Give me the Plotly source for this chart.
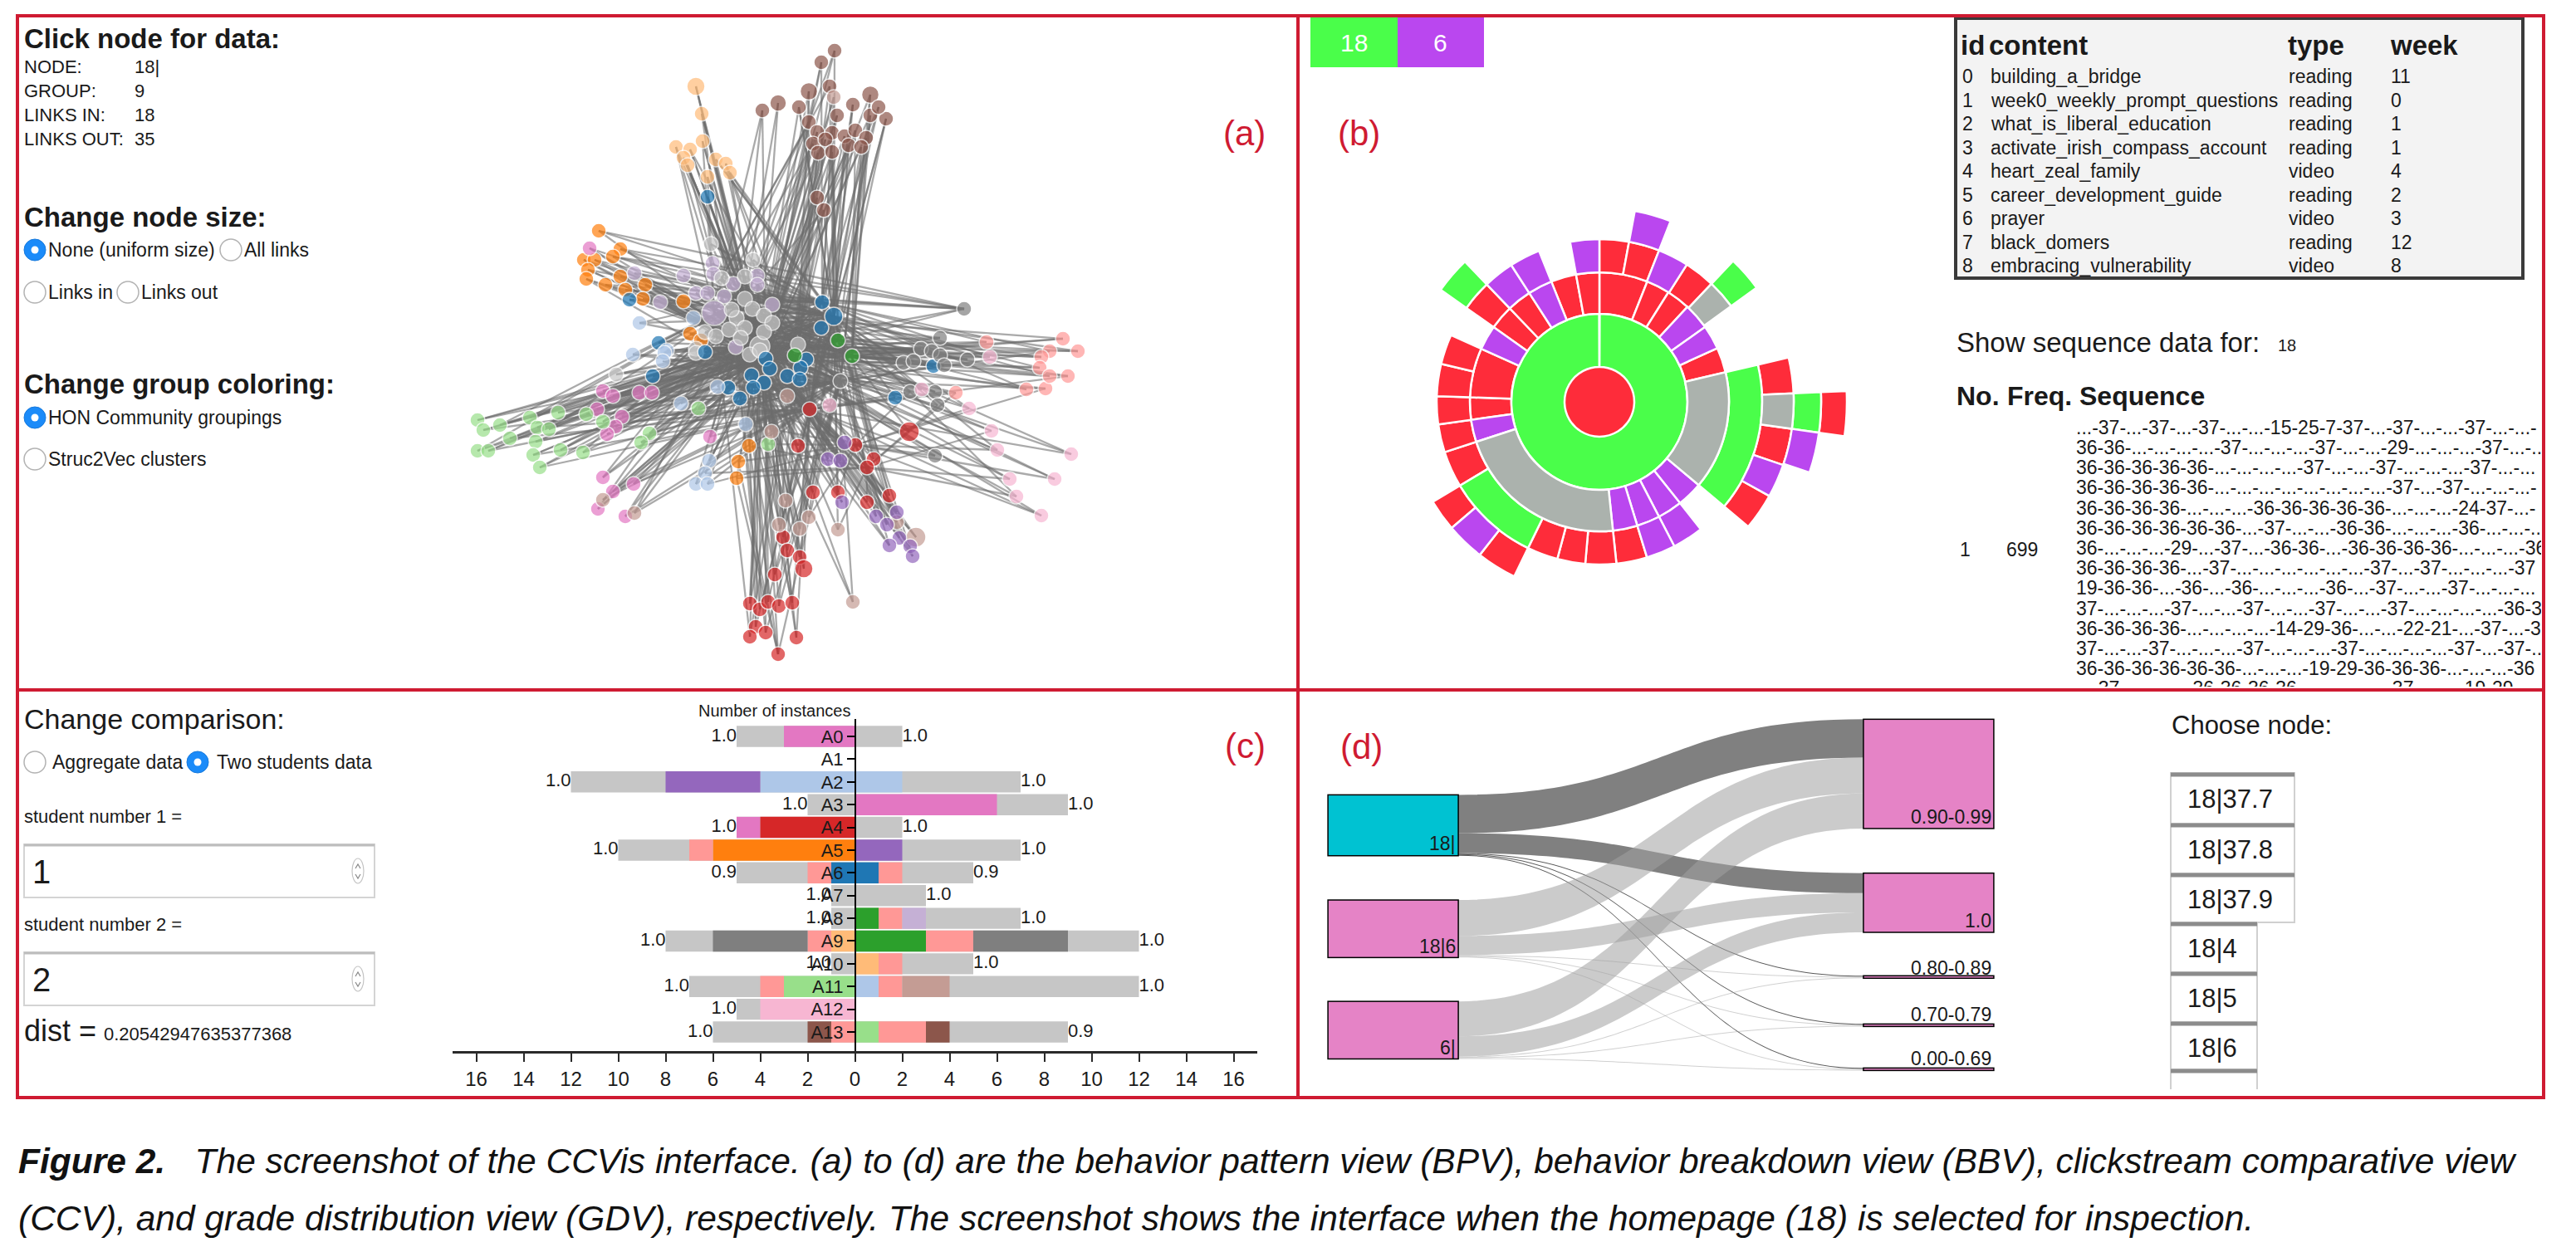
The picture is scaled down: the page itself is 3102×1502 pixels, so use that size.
import plotly.graph_objects as go

# ---------------------------------------------------------------- data ----
# (a) network: node positions (screen px of the original layout) + hub links
hub_nodes = {'G': (915, 417), 'C': (922, 432), 'B': (1004, 381), 'R': (975, 493), 'K': (1012, 459),
             'L': (860, 377), 'T': (948, 477), 'D': (1161, 372), 'Q': (937, 788), 'E': (990, 364),
             'F': (897, 360), 'H': (1026, 429), 'I': (961, 415), 'M': (869, 335), 'S': (1009, 410),
             'U': (886, 418), 'W': (1030, 536), 'X': (1044, 563)}
large_nodes = {(860, 377): 30, (915, 417): 24, (1004, 381): 22, (1095, 520): 24, (1103, 647): 24,
               (968, 685): 22, (838, 104): 22, (974, 110): 21, (1048, 114): 21, (937, 124): 20}

brown_nodes = [(1005, 61, 'GBF'), (989, 75, 'GCE'), (974, 110, 'GRI'), (999, 104, 'BTM'), (1048, 114, 'CKH'),
               (937, 124, 'GFA'), (962, 129, 'GBS'), (918, 133, 'LCU'), (1027, 126, 'BRE'), (1008, 139, 'CGI'),
               (1048, 139, 'GKH'), (1067, 143, 'BRS'), (974, 147, 'LCM'), (984, 159, 'GTF'), (1002, 160, 'CBE'),
               (1017, 164, 'BGI'), (1030, 157, 'GRH'), (1043, 166, 'RKS'), (979, 173, 'LGU'), (994, 168, 'CTF'),
               (1022, 175, 'GBE'), (1037, 177, 'BCH'), (985, 184, 'TGI'), (1002, 183, 'GKS'), (1058, 129, 'CRE'),
               (984, 238, 'GCI'), (992, 253, 'BTF')]
light_orange_nodes = [(838, 104, 'GCF'), (845, 137, 'CGU'), (846, 170, 'GLF'), (814, 177, 'LGU'),
                      (831, 180, 'GCI'), (823, 190, 'CTF'), (862, 192, 'BGE'), (828, 199, 'GCU'),
                      (874, 197, 'CRI'), (879, 208, 'GBS'), (852, 213, 'LCF')]
orange_nodes = [(721, 278, 'GDE'), (747, 300, 'BDH'), (703, 313, 'GCS'), (716, 313, 'CBI'), (738, 309, 'DGE'),
                (708, 325, 'GKF'), (747, 333, 'BCH'), (706, 336, 'GTI'), (729, 343, 'KDS'), (753, 349, 'GBE'),
                (777, 343, 'CGH'), (774, 360, 'BGS'), (823, 363, 'GCE'), (831, 402, 'CRI'), (844, 410, 'GTU'),
                (902, 537, 'GCX'), (889, 556, 'CQW'), (887, 576, 'GQX')]
lavender_nodes = [(764, 329, 'GBE'), (823, 332, 'CBS'), (858, 317, 'GKH'), (859, 330, 'BCI'), (838, 353, 'GRF'),
                  (852, 353, 'CDE'), (872, 357, 'GBH'), (883, 342, 'BKS'), (912, 332, 'CRE'), (912, 343, 'GKI'),
                  (795, 364, 'BCU'), (860, 377, 'GCE'), (930, 367, 'CBH'), (886, 418, 'RGX')]
light_gray_nodes = [(856, 294, 'GBE'), (907, 313, 'CBH'), (897, 333, 'GRS'), (869, 335, 'CKI'), (897, 360, 'BRE'),
                    (906, 372, 'CKH'), (887, 383, 'GRS'), (881, 373, 'BCI'), (920, 380, 'CRE'), (930, 389, 'GKH'),
                    (849, 400, 'BCS'), (862, 405, 'GRI'), (878, 397, 'CKE'), (897, 395, 'BRH'), (892, 407, 'CKS'),
                    (915, 417, 'BRE'), (920, 400, 'CRH'), (838, 420, 'GBS'), (961, 415, 'CRE'), (838, 425, 'GKI'),
                    (903, 427, 'BRH'), (915, 422, 'CKS'), (742, 451, 'GCU')]
blue_nodes = [(852, 237, 'GCF'), (758, 361, 'GBE'), (990, 364, 'GCH'), (1004, 381, 'GCI'), (989, 395, 'CRS'),
              (793, 413, 'GBF'), (849, 424, 'CRU'), (922, 432, 'GBE'), (971, 433, 'CRH'), (786, 453, 'GKU'),
              (905, 452, 'BRS'), (927, 444, 'GKE'), (920, 461, 'BRI'), (907, 467, 'GKH'), (948, 453, 'CRS'),
              (964, 443, 'GBE'), (963, 457, 'CKI'), (877, 467, 'GRU'), (891, 480, 'BCW'), (1124, 441, 'GBH'),
              (1078, 479, 'CRE')]
light_blue_nodes = [(770, 389, 'GBF'), (835, 383, 'CBU'), (803, 422, 'GRI'), (762, 427, 'CKF'), (800, 425, 'GBU'),
                    (798, 435, 'CRI'), (864, 466, 'GKU'), (820, 486, 'BCF'), (898, 511, 'GRW'), (854, 555, 'CKU'),
                    (849, 570, 'GBX'), (838, 583, 'CRU'), (852, 583, 'GKW')]
green_nodes = [(1009, 410, 'GCE'), (1026, 429, 'CLH'), (957, 428, 'GBS')]
dark_gray_nodes = [(1161, 372, 'GCE'), (1132, 407, 'CLS'), (1109, 420, 'GBH'), (1122, 423, 'CKI'),
                   (1132, 428, 'GLE'), (1088, 437, 'CBS'), (1100, 435, 'GRH'), (1137, 440, 'CKI'),
                   (1165, 433, 'GLS'), (1012, 459, 'GCE'), (1096, 472, 'CRW'), (1126, 472, 'GLH'),
                   (1129, 488, 'CBX'), (1126, 549, 'RGW')]
light_red_nodes = [(1188, 412, 'GCE'), (1280, 408, 'CLH'), (1298, 423, 'GBS'), (1264, 423, 'CKE'),
                   (1254, 430, 'GLI'), (1252, 443, 'CBH'), (1286, 453, 'GRS'), (1259, 468, 'CKW'),
                   (1236, 469, 'GLE'), (1264, 453, 'CBH'), (1151, 473, 'GRX')]
light_pink_nodes = [(1192, 430, 'GCE'), (1110, 469, 'CLH'), (1167, 492, 'GBW'), (999, 488, 'CKU'),
                    (1194, 519, 'GLX'), (1201, 542, 'CBW'), (1290, 547, 'GRH'), (1216, 577, 'CKX'),
                    (1270, 577, 'GLW'), (1224, 598, 'CBX'), (1254, 621, 'GRW')]
red_nodes = [(975, 493, 'GCI'), (961, 537, 'CBU'), (1030, 536, 'GKH'), (1095, 520, 'CLS'), (1052, 553, 'GBH'),
             (1044, 563, 'CRE'), (979, 593, 'GKU'), (1009, 593, 'CBW'), (1044, 605, 'GLX'), (1071, 597, 'CBH'),
             (943, 647, 'GRU'), (948, 663, 'CKI'), (963, 671, 'GBU'), (968, 685, 'CRF'), (933, 692, 'GKU'),
             (903, 727, 'CGI'), (915, 734, 'GRU'), (925, 725, 'CBF'), (938, 730, 'GKI'), (954, 726, 'CRU'),
             (910, 755, 'GBF'), (922, 762, 'CKU'), (903, 767, 'GLI'), (959, 768, 'CRF'), (937, 788, 'GKU')]
pink_nodes = [(710, 299, 'GCF'), (726, 471, 'CBU'), (738, 477, 'GKI'), (770, 473, 'CRF'), (785, 473, 'GBU'),
              (719, 493, 'CKI'), (749, 502, 'GRF'), (741, 514, 'CBU'), (731, 523, 'GKI'), (855, 526, 'CRU'),
              (726, 575, 'GBF'), (738, 592, 'CKU'), (763, 583, 'GRI'), (720, 613, 'CBF'), (753, 622, 'GKU')]
light_green_nodes = [(575, 506, 'GCU'), (602, 512, 'CBF'), (582, 518, 'GKI'), (614, 528, 'CRU'),
                     (638, 503, 'GBF'), (672, 497, 'CKI'), (647, 515, 'GRU'), (661, 517, 'CBF'),
                     (645, 532, 'GKI'), (706, 499, 'CRU'), (726, 508, 'GBF'), (782, 522, 'CKU'),
                     (772, 533, 'GRI'), (575, 543, 'CBF'), (588, 543, 'GKU'), (642, 548, 'CRI'),
                     (675, 542, 'GBU'), (702, 545, 'CKF'), (650, 563, 'GRI'), (841, 492, 'CBU'), (925, 535, 'GKW')]
tan_nodes = [(1004, 117, 'GCE'), (948, 477, 'CBU'), (929, 520, 'GKF'), (946, 603, 'CRU'), (974, 623, 'GBW'),
             (938, 632, 'CKI'), (963, 637, 'GRF'), (1009, 638, 'CBX'), (1080, 629, 'GKW'), (1103, 647, 'CRX'),
             (1027, 725, 'GBU'), (726, 602, 'CKI'), (764, 618, 'GRF')]
purple_nodes = [(1017, 533, 'GCU'), (997, 553, 'CBI'), (1012, 555, 'GKF'), (1014, 605, 'CRU'), (1055, 622, 'GBW'),
                (1068, 632, 'CKX'), (1080, 617, 'GRW'), (1083, 648, 'CBI'), (1071, 657, 'GKU'), (1096, 658, 'CRX'),
                (1099, 670, 'GBW')]

network_groups = [(brown_nodes, '#8c564b'), (light_orange_nodes, '#ffbb78'), (orange_nodes, '#ff7f0e'),
                  (lavender_nodes, '#c5b0d5'), (light_gray_nodes, '#c7c7c7'), (blue_nodes, '#1f77b4'),
                  (light_blue_nodes, '#aec7e8'), (green_nodes, '#2ca02c'), (dark_gray_nodes, '#7f7f7f'),
                  (light_red_nodes, '#ff9896'), (light_pink_nodes, '#f7b6d2'), (red_nodes, '#d62728'),
                  (pink_nodes, '#e377c2'), (light_green_nodes, '#98df8a'), (tan_nodes, '#c49c94'),
                  (purple_nodes, '#9467bd')]

node_info_labels = ["NODE:", "GROUP:", "LINKS IN:", "LINKS OUT:"]
node_info_values = ["18|", "9", "18", "35"]

# (b) sunburst wedges: (ring, start deg, end deg, colour key)
ring_edges = [0, 42, 106, 156, 196, 234, 267, 298]
sun_wedges = [
    (0, 0, 180, 'R'), (0, 180, 360, 'R'),
    (1, 0.2, 359.8, 'N'),
    (2, 0, 21.7, 'R'), (2, 21.7, 32.2, 'R'), (2, 32.2, 42.8, 'R'), (2, 42.8, 54.7, 'P'), (2, 54.7, 65.5, 'P'),
    (2, 65.5, 76.8, 'R'), (2, 76.8, 130, 'Y'), (2, 130, 141.5, 'P'), (2, 141.5, 152.6, 'P'),
    (2, 152.6, 163, 'P'), (2, 163, 174, 'P'), (2, 174, 252, 'Y'), (2, 252, 262, 'P'), (2, 262, 272, 'R'),
    (2, 272, 294.2, 'R'), (2, 294.2, 305.2, 'P'), (2, 305.2, 316.2, 'R'), (2, 316.2, 327.2, 'R'),
    (2, 327.2, 338.2, 'P'), (2, 338.2, 349.6, 'R'), (2, 349.6, 360, 'R'),
    (3, 0, 10.5, 'R'), (3, 10.5, 21.5, 'R'), (3, 21.5, 32.5, 'P'), (3, 32.5, 43.5, 'R'), (3, 43.5, 54, 'Y'),
    (3, 76.8, 130, 'N'), (3, 141.5, 152.6, 'P'), (3, 152.6, 163, 'P'), (3, 163, 174, 'R'), (3, 174, 185, 'R'),
    (3, 185, 195, 'R'), (3, 195, 206, 'R'), (3, 206, 239, 'N'), (3, 239, 252, 'R'), (3, 252, 262, 'R'),
    (3, 262, 272, 'R'), (3, 272, 283.5, 'R'), (3, 283.5, 294.2, 'R'), (3, 305.2, 316.2, 'R'),
    (3, 316.2, 327.2, 'P'), (3, 327.2, 338.2, 'P'), (3, 349.6, 360, 'P'),
    (4, 10.5, 21.5, 'P'), (4, 43.5, 54, 'N'), (4, 76.8, 87.5, 'R'), (4, 87.5, 98, 'Y'), (4, 98, 109, 'R'),
    (4, 109, 119, 'P'), (4, 119, 130, 'R'), (4, 206, 218, 'R'), (4, 218, 229.5, 'P'), (4, 229.5, 239, 'R'),
    (4, 305.2, 316.2, 'N'),
    (5, 87.5, 98, 'N'), (5, 98, 108.6, 'P'),
    (6, 87.5, 98, 'R'),
]
breadcrumb = ["18", "6"]

table_ids = ["0", "1", "2", "3", "4", "5", "6", "7", "8"]
table_content = ["building_a_bridge", "week0_weekly_prompt_questions", "what_is_liberal_education",
                 "activate_irish_compass_account", "heart_zeal_family", "career_development_guide",
                 "prayer", "black_domers", "embracing_vulnerability"]
table_type = ["reading", "reading", "reading", "reading", "video", "reading", "video", "reading", "video"]
table_week = ["11", "0", "1", "1", "4", "2", "3", "12", "8"]

sequence_lines = [
    "...-37-...-37-...-37-...-...-15-25-7-37-...-37-...-...-37-...-...-",
    "36-36-...-...-...-...-37-...-...-...-37-...-...-29-...-...-...-37-...-...",
    "36-36-36-36-36-...-...-...-...-37-...-...-37-...-...-...-37-...-...",
    "36-36-36-36-36-...-...-...-...-...-...-...-...-37-...-37-...-...-...-",
    "36-36-36-36-...-...-...-36-36-36-36-36-...-...-...-24-37-...-",
    "36-36-36-36-36-36-...-37-...-...-36-36-...-...-...-36-...-...-...",
    "36-...-...-...-29-...-37-...-36-36-...-36-36-36-36-...-...-...-36",
    "36-36-36-36-...-37-...-...-...-...-...-...-37-...-37-...-...-...-37",
    "19-36-36-...-36-...-36-...-...-...-36-...-37-...-...-37-...-...-...",
    "37-...-...-...-37-...-...-37-...-...-37-...-...-37-...-...-...-...-36-36",
    "36-36-36-36-...-...-...-...-14-29-36-...-...-22-21-...-37-...-37",
    "37-...-...-37-...-...-...-37-...-...-...-37-...-...-...-...-37-...-37-...",
    "36-36-36-36-36-36-...-...-...-19-29-36-36-36-...-...-...-36",
    "...-37-...-...-...-36-36-36-36-...-...-...-...-37-...-...-19-29-",
]
sequence_no, sequence_freq = "1", "699"

# (c) clickstream comparison
activities = ["A%d" % i for i in range(14)]
s1_total = [5, 0, 12, 2, 5, 10, 5, 1, 1, 8, 1, 7, 5, 6]
s2_total = [2, 0, 7, 9, 2, 7, 5, 3, 7, 12, 5, 12, 0, 9]
s1_label = ["1.0", "", "1.0", "1.0", "1.0", "1.0", "0.9", "1.0", "1.0", "1.0", "1.0", "1.0", "1.0", "1.0"]
s2_label = ["1.0", "", "1.0", "1.0", "1.0", "1.0", "0.9", "1.0", "1.0", "1.0", "1.0", "1.0", "", "0.9"]
# (row, from, to, colour) measured outward from zero
s1_segments = [(0, 0, 3, 'pink'), (2, 0, 4, 'lblue'), (2, 4, 8, 'purple'), (4, 0, 4, 'red'), (4, 4, 5, 'pink'),
               (5, 0, 6, 'orange'), (5, 6, 7, 'lred'), (6, 0, 1, 'blue'), (6, 1, 2, 'lred'),
               (9, 0, 1, 'lorange'), (9, 1, 2, 'lred'), (9, 2, 6, 'dgray'), (11, 0, 3, 'lgreen'),
               (11, 3, 4, 'lred'), (12, 0, 4, 'lpink'), (13, 0, 1, 'lred'), (13, 1, 2, 'brown')]
s2_segments = [(2, 0, 2, 'lblue'), (3, 0, 6, 'pink'), (5, 0, 2, 'purple'), (6, 0, 1, 'blue'), (6, 1, 2, 'lred'),
               (8, 0, 1, 'green'), (8, 1, 2, 'lred'), (8, 2, 3, 'lavender'), (9, 0, 3, 'green'),
               (9, 3, 5, 'lred'), (9, 5, 9, 'dgray'), (10, 0, 1, 'lorange'), (10, 1, 2, 'lred'),
               (11, 0, 1, 'lblue'), (11, 1, 2, 'lred'), (11, 2, 4, 'tan'), (13, 0, 1, 'lgreen'),
               (13, 1, 3, 'lred'), (13, 3, 4, 'brown')]
x_ticks = list(range(-16, 17, 2))
dist_value = "0.20542947635377368"

# (d) grade distribution sankey
sankey_labels = ["18|", "18|6", "6|", "0.90-0.99", "1.0", "0.80-0.89", "0.70-0.79", "0.00-0.69"]
sankey_source = [0, 0, 0, 0, 0, 1, 1, 1, 1, 1, 2, 2, 2, 2, 2]
sankey_target = [3, 4, 5, 6, 7, 3, 4, 5, 6, 7, 3, 4, 5, 6, 7]
sankey_value = [46, 24, 1, 1, 1, 43, 23, 1, 1, 1, 42, 24, 1, 1, 1]
choose_nodes = ["18|37.7", "18|37.8", "18|37.9", "18|4", "18|5", "18|6", "18|7"]

caption_1 = ("<b><i>Figure 2.</i></b>\u00a0\u00a0\u00a0<i>The screenshot of the CCVis interface. (a) to (d) are the "
             "behavior pattern view (BPV), behavior breakdown view (BBV), clickstream comparative view</i>")
caption_2 = ("<i>(CCV), and grade distribution view (GDV), respectively. The screenshot shows the interface "
             "when the homepage (18) is selected for inspection.</i>")

# ------------------------------------------------------------- styling ----
W, H = 3102, 1502
FONT = "Liberation Sans, Arial, Helvetica, sans-serif"
FRAME = "#cf1b32"
INK = "#1a1a1a"
SUN_COL = {'R': '#fe2c3a', 'N': '#4afe4a', 'P': '#ba47ef', 'Y': '#abb2ad'}
BAR_COL = {'pink': '#e377c2', 'lblue': '#aec7e8', 'purple': '#9467bd', 'red': '#d62728', 'orange': '#ff7f0e',
           'lred': '#ff9896', 'blue': '#1f77b4', 'lorange': '#ffbb78', 'dgray': '#7f7f7f', 'lgreen': '#98df8a',
           'lpink': '#f7b6d2', 'brown': '#8c564b', 'green': '#2ca02c', 'lavender': '#c5b0d5', 'tan': '#c49c94'}


def fx(x):
    return x / W


def fy(y):
    return 1 - y / H


fig = go.Figure()
shapes, ann = [], []


def text(x, y, s, size, bold=False, color=INK, xanchor="left", yanchor="middle"):
    if bold:
        s = "<b>%s</b>" % s
    ann.append(dict(x=fx(x), y=fy(y), xref="paper", yref="paper", text=s, showarrow=False,
                    xanchor=xanchor, yanchor=yanchor, borderpad=0,
                    font=dict(family=FONT, size=size, color=color)))


def rect(x0, y0, x1, y1, fill=None, line=None, width=1):
    shapes.append(dict(type="rect", xref="paper", yref="paper", x0=fx(x0), x1=fx(x1), y0=fy(y1), y1=fy(y0),
                       fillcolor=fill or "rgba(0,0,0,0)", line=dict(color=line or "rgba(0,0,0,0)", width=width)))


def hline(x0, x1, y, color, width):
    shapes.append(dict(type="line", xref="paper", yref="paper", x0=fx(x0), x1=fx(x1), y0=fy(y), y1=fy(y),
                       line=dict(color=color, width=width)))


def vline(x, y0, y1, color, width):
    shapes.append(dict(type="line", xref="paper", yref="paper", x0=fx(x), x1=fx(x), y0=fy(y0), y1=fy(y1),
                       line=dict(color=color, width=width)))


def polyline(pts, color, width):
    path = "M " + " L ".join("%f,%f" % (fx(px), fy(py)) for px, py in pts)
    shapes.append(dict(type="path", xref="paper", yref="paper", path=path, line=dict(color=color, width=width)))


def radio(cx, cy, selected):
    r = 13
    if selected:
        shapes.append(dict(type="circle", xref="paper", yref="paper", x0=fx(cx - r), x1=fx(cx + r),
                           y0=fy(cy + r), y1=fy(cy - r), fillcolor="#1b8bf9", line=dict(color="#1679dc", width=1)))
        shapes.append(dict(type="circle", xref="paper", yref="paper", x0=fx(cx - 4.5), x1=fx(cx + 4.5),
                           y0=fy(cy + 4.5), y1=fy(cy - 4.5), fillcolor="white", line=dict(width=0)))
    else:
        shapes.append(dict(type="circle", xref="paper", yref="paper", x0=fx(cx - r), x1=fx(cx + r),
                           y0=fy(cy + r), y1=fy(cy - r), fillcolor="white", line=dict(color="#b3b3b3", width=1.5)))


# ------------------------------------------------------ (a) network -------
ex, ey = [], []
for nodes, _ in network_groups:
    for (x, y, hubs) in nodes:
        for h in hubs:
            if h not in hub_nodes:
                continue
            hx, hy = hub_nodes[h]
            ex += [x, hx, None]
            ey += [y, hy, None]
fig.add_trace(go.Scatter(x=ex, y=ey, mode="lines", line=dict(color="rgba(108,108,108,0.58)", width=2.3),
                         hoverinfo="skip", xaxis="x", yaxis="y"))
for nodes, col in network_groups:
    fig.add_trace(go.Scatter(
        x=[n[0] for n in nodes], y=[n[1] for n in nodes], mode="markers", hoverinfo="skip",
        marker=dict(color=col, size=[large_nodes.get((n[0], n[1]), 18) for n in nodes],
                    line=dict(color="white", width=1.5)),
        xaxis="x", yaxis="y"))

text(28, 46, "Click node for data:", 33, bold=True)
for i, (lab, val) in enumerate(zip(node_info_labels, node_info_values)):
    text(28, 81 + 28.7 * i, lab, 22)
    text(161, 81 + 28.7 * i, val, 22)
text(28, 261, "Change node size:", 33, bold=True)
radio(42, 301, True); text(57, 301, "None (uniform size)", 23)
radio(278, 301, False); text(293, 301, "All links", 23)
radio(42, 352, False); text(57, 352, "Links in", 23)
radio(154, 352, False); text(169, 352, "Links out", 23)
text(28, 462, "Change group coloring:", 33, bold=True)
radio(42, 503, True); text(57, 503, "HON Community groupings", 23)
radio(42, 553, False); text(57, 553, "Struc2Vec clusters", 23)
text(1498, 161, "(a)", 42, color=FRAME, xanchor="center")

# ---------------------------------------------------- (b) sunburst --------
for key, col in SUN_COL.items():
    ws = [w for w in sun_wedges if w[3] == key]
    center = [w for w in ws if w[0] == 0]
    other = [w for w in ws if w[0] != 0]
    for group, lc, lw in ((center, col, 1), (other, "white", 2.5)):
        if not group:
            continue
        fig.add_trace(go.Barpolar(
            theta=[(w[1] + w[2]) / 2 for w in group], width=[w[2] - w[1] for w in group],
            base=[ring_edges[w[0]] for w in group],
            r=[ring_edges[w[0] + 1] - ring_edges[w[0]] for w in group],
            marker=dict(color=col, line=dict(color=lc, width=lw)), hoverinfo="skip", subplot="polar"))

rect(1578, 21, 1683, 81, fill=SUN_COL['N'])
rect(1683, 21, 1787, 81, fill=SUN_COL['P'])
text(1630, 52, breadcrumb[0], 30, color="white", xanchor="center")
text(1735, 52, breadcrumb[1], 30, color="white", xanchor="center")
text(1636, 161, "(b)", 42, color=FRAME, xanchor="center")

# table
rect(2355, 22, 3038, 335, fill="#f3f3f3", line="#3a3a3a", width=4)
text(2360, 54, "id", 33, bold=True)
text(2394, 54, "content", 33, bold=True)
text(2754, 54, "type", 33, bold=True)
text(2877, 54, "week", 33, bold=True)
for i in range(len(table_ids)):
    yy = 92 + 28.55 * i
    text(2362, yy, table_ids[i], 23)
    text(2396, yy, table_content[i], 23)
    text(2755, yy, table_type[i], 23)
    text(2878, yy, table_week[i], 23)

text(2355, 413, "Show sequence data for:", 33)
text(2742, 416, "18", 20)
text(2355, 477, "No.", 32, bold=True)
text(2416, 477, "Freq.", 32, bold=True)
text(2503, 477, "Sequence", 32, bold=True)
text(2359, 662, sequence_no, 23)
text(2415, 662, sequence_freq, 23)
fig.add_trace(go.Scatter(x=[0] * len(sequence_lines), y=list(range(len(sequence_lines))), mode="text",
                         text=sequence_lines, textposition="middle right", cliponaxis=True, hoverinfo="skip",
                         textfont=dict(family=FONT, size=23, color=INK), xaxis="x3", yaxis="y3"))

# --------------------------------------------------- (c) comparison -------
text(28, 866, "Change comparison:", 34)
radio(42, 918, False); text(62, 918, "Aggregate data", 23)
radio(238, 918, True); text(260, 918, "Two students data", 23)
text(28, 983, "student number 1 =", 22)
text(28, 1113, "student number 2 =", 22)
for y0, val in ((1017, "1"), (1147, "2")):
    rect(29, y0, 451, y0 + 64, fill="white", line="#d4d4d4", width=2)
    hline(29, 451, y0 + 1, "#bdbdbd", 3)
    text(38, y0 + 33, val, 40)
    shapes.append(dict(type="circle", xref="paper", yref="paper", x0=fx(424), x1=fx(438),
                       y0=fy(y0 + 47), y1=fy(y0 + 17), line=dict(color="#c4c4c4", width=1.2)))
    polyline([(428, y0 + 29), (431, y0 + 24), (434, y0 + 29)], "#888888", 1.2)
    polyline([(428, y0 + 36), (431, y0 + 41), (434, y0 + 36)], "#888888", 1.2)
text(28, 1241, "dist =", 36)
text(124, 1245, dist_value, 22)
text(932, 856, "Number of instances", 20, xanchor="center")
text(1499, 898, "(c)", 42, color=FRAME, xanchor="center")

ys = list(range(len(activities)))
fig.add_trace(go.Bar(orientation="h", y=ys, x=s1_total, base=[-t for t in s1_total], width=0.93,
                     marker=dict(color="#c6c6c6", line=dict(width=0)), hoverinfo="skip", xaxis="x4", yaxis="y4"))
fig.add_trace(go.Bar(orientation="h", y=ys, x=s2_total, base=[0] * len(ys), width=0.93,
                     marker=dict(color="#c6c6c6", line=dict(width=0)), hoverinfo="skip", xaxis="x4", yaxis="y4"))
for segs, sign in ((s1_segments, -1), (s2_segments, 1)):
    for key, col in BAR_COL.items():
        sel = [s for s in segs if s[3] == key]
        if not sel:
            continue
        fig.add_trace(go.Bar(orientation="h", y=[s[0] for s in sel], x=[s[2] - s[1] for s in sel],
                             base=[(s[1] if sign > 0 else -s[2]) for s in sel], width=0.93,
                             marker=dict(color=col, line=dict(width=0)), hoverinfo="skip",
                             xaxis="x4", yaxis="y4"))
li = [i for i in ys if s1_label[i]]
ri = [i for i in ys if s2_label[i]]
fig.add_trace(go.Scatter(x=[-s1_total[i] for i in li], y=li, text=[s1_label[i] for i in li], mode="text",
                         textposition="middle left", cliponaxis=False, hoverinfo="skip",
                         textfont=dict(family=FONT, size=22, color=INK), xaxis="x4", yaxis="y4"))
fig.add_trace(go.Scatter(x=[s2_total[i] for i in ri], y=ri, text=[s2_label[i] for i in ri], mode="text",
                         textposition="middle right", cliponaxis=False, hoverinfo="skip",
                         textfont=dict(family=FONT, size=22, color=INK), xaxis="x4", yaxis="y4"))

# ------------------------------------------------------ (d) sankey --------
sankey_node_x = [0.098, 0.098, 0.098, 0.902, 0.902, 0.902, 0.902, 0.902]
sankey_node_y = [0.302, 0.596, 0.884, 0.156, 0.522, 0.733, 0.870, 0.995]
link_cols = []
for s, v in zip(sankey_source, sankey_value):
    if s == 0:
        link_cols.append("rgba(100,100,100,0.82)" if v > 5 else "rgba(60,60,60,0.85)")
    else:
        link_cols.append("rgba(160,160,160,0.55)" if v > 5 else "rgba(150,150,150,0.45)")
fig.add_trace(go.Sankey(
    domain=dict(x=[fx(1599), fx(2401)], y=[fy(1290), fy(866)]),
    arrangement="fixed", hoverinfo="skip",
    node=dict(label=[""] * len(sankey_labels), x=sankey_node_x, y=sankey_node_y, pad=53, thickness=157,
              color=["#00c2d2", "#e583c6", "#e583c6", "#e583c6", "#e583c6", "#e583c6", "#e583c6", "#e583c6"],
              line=dict(color="black", width=1.5), hoverinfo="skip"),
    link=dict(source=sankey_source, target=sankey_target, value=sankey_value, color=link_cols,
              hoverinfo="skip")))
left_label_y = [1030, 1154, 1276]
right_label_y = [998, 1123, 1180, 1236, 1289]
for lab, yy in zip(sankey_labels[:3], left_label_y):
    text(1754, yy, lab, 23, xanchor="right", yanchor="bottom")
for lab, yy in zip(sankey_labels[3:], right_label_y):
    text(2399, yy, lab, 23, xanchor="right", yanchor="bottom")
text(1639, 899, "(d)", 42, color=FRAME, xanchor="center")

text(2614, 873, "Choose node:", 31)
btn_top = [931, 992, 1052, 1111, 1171, 1231, 1288]
for i, lab in enumerate(choose_nodes):
    x1 = 2763 if i < 3 else 2718
    y0 = btn_top[i]
    y1 = btn_top[i + 1] if i + 1 < len(btn_top) else 1312
    if i < len(choose_nodes) - 1:
        rect(2614, y0, x1, y1, fill="white", line="#d0d0d0", width=2)
        text(2633, y0 + 31, lab, 31)
    else:
        vline(2614, y0, y1, "#d0d0d0", 2)
        vline(x1, y0, y1, "#d0d0d0", 2)
    hline(2614, x1, y0 + 2, "#8c8c8c", 5)

# ------------------------------------------------------- frame + caption --
rect(21, 19, 3063, 1322, line=FRAME, width=4)
vline(1563, 19, 1322, FRAME, 4)
hline(21, 3063, 831, FRAME, 4)
ann.append(dict(x=fx(20), y=fy(1398), xref="paper", yref="paper", text=caption_1, showarrow=False,
                xanchor="left", yanchor="middle", font=dict(family=FONT, size=42.5, color="#111")))
ann.append(dict(x=fx(20), y=fy(1467), xref="paper", yref="paper", text=caption_2, showarrow=False,
                xanchor="left", yanchor="middle", font=dict(family=FONT, size=42.5, color="#111")))

# ------------------------------------------------------------- layout -----
R = 300
fig.update_layout(
    width=W, height=H, autosize=False, margin=dict(l=0, r=0, t=0, b=0),
    paper_bgcolor="white", plot_bgcolor="white", showlegend=False, barmode="overlay",
    font=dict(family=FONT, color=INK),
    xaxis=dict(domain=[fx(540), fx(1340)], range=[540, 1340], visible=False, fixedrange=True),
    yaxis=dict(domain=[fy(800), fy(40)], range=[800, 40], visible=False, fixedrange=True),
    xaxis3=dict(domain=[fx(2500), fx(3060)], range=[0, 560], visible=False, anchor="y3"),
    yaxis3=dict(domain=[fy(827), fy(505)], range=[(827 - 517) / 24.2, (505 - 517) / 24.2],
                visible=False, anchor="x3"),
    xaxis4=dict(domain=[fx(545), fx(1514)], range=[-17, 17], anchor="y4", showgrid=False, zeroline=False,
                showline=True, linecolor="#2a2a2a", linewidth=3, ticks="outside", ticklen=10, tickwidth=2,
                tickcolor="#2a2a2a", tickvals=x_ticks, ticktext=[str(abs(v)) for v in x_ticks],
                tickfont=dict(family=FONT, size=24, color=INK)),
    yaxis4=dict(domain=[fy(1266), fy(866)], range=[13.84, -0.77], anchor="free", position=fx(1030),
                side="left", showgrid=False, zeroline=False, showline=True, linecolor="black", linewidth=2,
                ticks="outside", ticklen=9, tickwidth=2, tickcolor="black", tickvals=ys, ticktext=activities,
                tickfont=dict(family=FONT, size=22, color=INK)),
    polar=dict(domain=dict(x=[fx(1926 - R), fx(1926 + R)], y=[fy(484 + R), fy(484 - R)]),
               bgcolor="rgba(0,0,0,0)", barmode="overlay", hole=0,
               angularaxis=dict(visible=False, rotation=90, direction="clockwise", showgrid=False,
                                showline=False, showticklabels=False, ticks=""),
               radialaxis=dict(visible=False, range=[0, R], showgrid=False, showline=False,
                               showticklabels=False, ticks="")),
    shapes=shapes, annotations=ann,
)

fig.write_html("out.html", config={"displayModeBar": False, "staticPlot": True},
               post_script="document.body.style.margin='0';document.body.style.overflow='hidden';")
